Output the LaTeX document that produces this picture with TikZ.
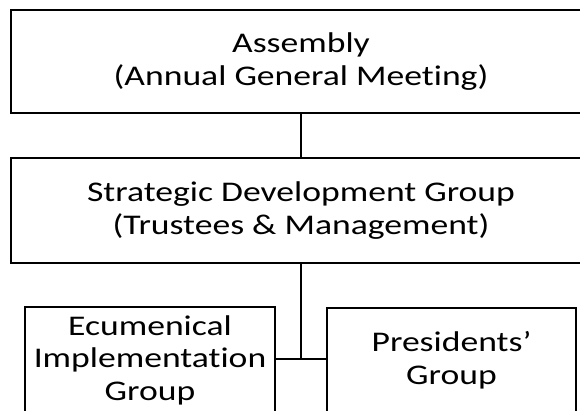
\documentclass[tikz,border=0pt]{standalone}
\usepackage{fontspec}
\setmainfont{Carlito}[FakeStretch=1.25, Ligatures=NoCommon]
\begin{document}
\begin{tikzpicture}[x=1pt,y=-1pt,
  box/.style={draw=black, line width=2pt, fill=white, rectangle, inner sep=0pt,
    align=center, font=\fontsize{28.5}{32.6}\selectfont}]
\useasboundingbox (0,0) rectangle (580,410);
\clip (0,0) rectangle (580,410);
\node[box, minimum width=580pt, minimum height=103pt] (asm) at (301,61.5)
  {Assembly\\(Annual General Meeting)};
\node[box, minimum width=580pt, minimum height=105pt] (sdg) at (301,210.5)
  {Strategic Development Group\\(Trustees \& Management)};
\node[box, minimum width=250pt, minimum height=106pt] (eig) at (150,360)
  {Ecumenical\\Implementation\\Group};
\node[box, minimum width=249pt, minimum height=104pt] (pg) at (451.5,360)
  {Presidents’\\Group};
\coordinate (j) at (301,359);
\draw[line width=2pt] (asm.south) -- (sdg.north);
\draw[line width=2pt] (sdg.south) -- (j);
\draw[line width=2pt] (eig.east |- j) -- (pg.west |- j);
\end{tikzpicture}
\end{document}
